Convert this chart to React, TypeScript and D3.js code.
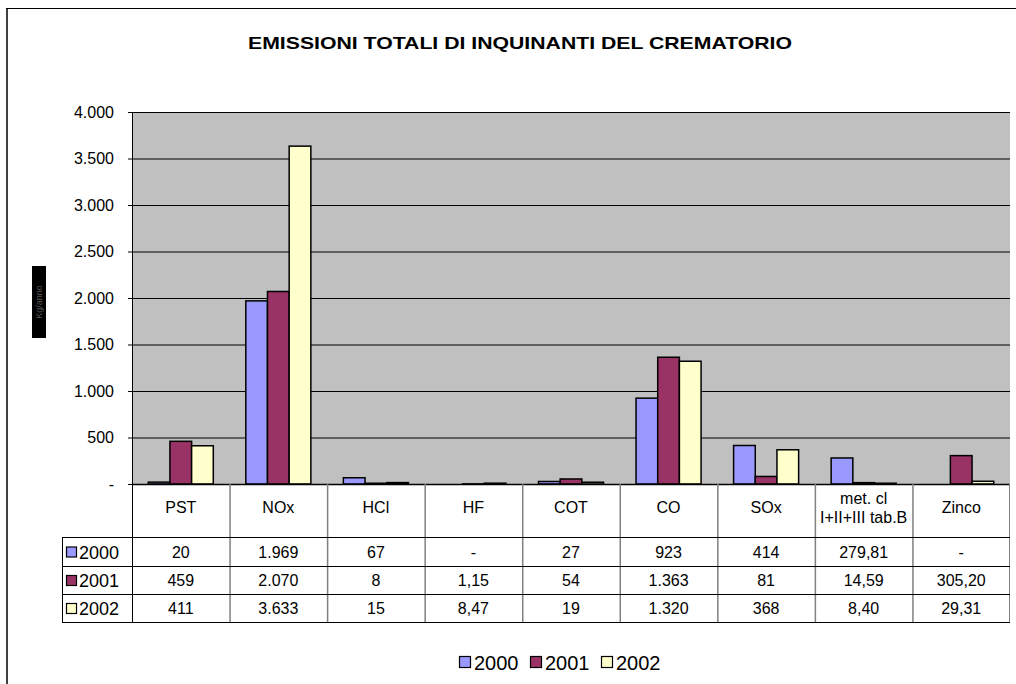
import React from "react";
import * as d3 from "d3";

const categories = ["PST", "NOx", "HCl", "HF", "COT", "CO", "SOx", "met. cl\nI+II+III tab.B", "Zinco"];
const seriesNames = ["2000", "2001", "2002"];
const values2000 = [20, 1969, 67, 0, 27, 923, 414, 279.81, 0];
const values2001 = [459, 2070, 8, 1.15, 54, 1363, 81, 14.59, 305.2];
const values2002 = [411, 3633, 15, 8.47, 19, 1320, 368, 8.4, 29.31];
const labels2000 = ["20", "1.969", "67", "-", "27", "923", "414", "279,81", "-"];
const labels2001 = ["459", "2.070", "8", "1,15", "54", "1.363", "81", "14,59", "305,20"];
const labels2002 = ["411", "3.633", "15", "8,47", "19", "1.320", "368", "8,40", "29,31"];
const yTicks = [0, 500, 1000, 1500, 2000, 2500, 3000, 3500, 4000];
const seriesColors = ["#9999FF", "#993366", "#FFFFCC"];
const title = "EMISSIONI TOTALI DI INQUINANTI DEL CREMATORIO";
const yLabel = "Kg/anno";

const seriesValues = [values2000, values2001, values2002];
const seriesLabels = [labels2000, labels2001, labels2002];

const fmt = (v: number) => (v === 0 ? "-" : d3.format(",")(v).replace(/,/g, "."));

export default function App() {
  const left = 132, right = 1010, top = 112, bottom = 484;
  const x = d3.scaleBand<string>().domain(categories).range([left, right]).paddingInner(0).paddingOuter(0);
  const bw = x.bandwidth() / 4.5;
  const y = d3.scaleLinear().domain([0, 4000]).range([bottom, top]);
  const rowTops = [537, 566, 594, 622];
  const font = "Liberation Sans, Arial, sans-serif";

  return (
    <svg width={1016} height={684} style={{ position: "absolute", left: 0, top: 0, background: "#fff" }} fontFamily={font}>
      {/* frame */}
      <line x1={7} y1={8} x2={7} y2={684} stroke="#404040" strokeWidth={2} />
      <line x1={6} y1={8.5} x2={1016} y2={8.5} stroke="#000" strokeWidth={1} />
      {/* title */}
      <text x={520} y={49} textAnchor="middle" fontSize={17} fontWeight="bold" textLength={544} lengthAdjust="spacingAndGlyphs">{title}</text>
      {/* y label */}
      <rect x={32} y={266} width={14} height={72} fill="#000" />
      <text transform={`translate(42,302) rotate(-90)`} textAnchor="middle" fontSize={9} fill="#555">{yLabel}</text>
      {/* plot area */}
      <rect x={left} y={top} width={right - left} height={bottom - top} fill="#C0C0C0" />
      {yTicks.map((t) => (
        <g key={t}>
          {t > 0 && <line x1={left} x2={right} y1={y(t) + 0.5} y2={y(t) + 0.5} stroke="#000" strokeWidth={1} />}
          <line x1={left - 4} x2={left} y1={y(t) + 0.5} y2={y(t) + 0.5} stroke="#000" strokeWidth={1} />
          <text x={114} y={y(t) + 5.5} textAnchor="end" fontSize={16}>{fmt(t)}</text>
        </g>
      ))}
      {/* bars */}
      {seriesValues.map((vals, si) =>
        vals.map((v, ci) =>
          v > 0 ? (
            <rect
              key={`${si}-${ci}`}
              x={(x(categories[ci]) as number) + 0.75 * bw + si * bw}
              y={y(v)}
              width={bw}
              height={bottom - y(v)}
              fill={seriesColors[si]}
              stroke="#000"
              strokeWidth={1.5}
            />
          ) : null
        )
      )}
      {/* axes */}
      <line x1={left + 0.5} x2={left + 0.5} y1={top} y2={rowTops[3]} stroke="#000" strokeWidth={1} />
      <line x1={left} x2={right} y1={bottom + 0.5} y2={bottom + 0.5} stroke="#000" strokeWidth={1.5} />
      {/* table */}
      {categories.map((c, ci) => (
        <g key={c}>
          {ci > 0 && <line x1={(x(c) as number) + 0.5} x2={(x(c) as number) + 0.5} y1={bottom} y2={rowTops[3]} stroke="#808080" strokeWidth={1.5} />}
          {c.split("\n").map((ln, li, arr) => (
            <text key={li} x={(x(c) as number) + x.bandwidth() / 2} y={513 + (li - (arr.length - 1) / 2) * 19} textAnchor="middle" fontSize={16}>{ln}</text>
          ))}
        </g>
      ))}
      <line x1={right - 0.5} x2={right - 0.5} y1={bottom} y2={rowTops[3]} stroke="#808080" strokeWidth={1} />
      {rowTops.map((ry) => (
        <line key={ry} x1={62} x2={right} y1={ry + 0.5} y2={ry + 0.5} stroke="#000" strokeWidth={1} />
      ))}
      <line x1={62.5} x2={62.5} y1={rowTops[0]} y2={rowTops[3]} stroke="#000" strokeWidth={1} />
      {seriesNames.map((s, si) => {
        const cy = (rowTops[si] + rowTops[si + 1]) / 2;
        return (
          <g key={s}>
            <rect x={66.5} y={cy - 4.5} width={10} height={10} fill={seriesColors[si]} stroke="#000" strokeWidth={1.2} />
            <text x={79} y={cy + 7} fontSize={18}>{s}</text>
            {seriesLabels[si].map((lab, ci) => (
              <text key={ci} x={(x(categories[ci]) as number) + x.bandwidth() / 2} y={cy + 6} textAnchor="middle" fontSize={16}>{lab}</text>
            ))}
          </g>
        );
      })}
      {/* legend */}
      {seriesNames.map((s, si) => (
        <g key={s} transform={`translate(${459 + si * 71},0)`}>
          <rect x={0.5} y={656.5} width={11} height={11} fill={seriesColors[si]} stroke="#000" strokeWidth={1.2} />
          <text x={15} y={670} fontSize={20}>{s}</text>
        </g>
      ))}
    </svg>
  );
}
